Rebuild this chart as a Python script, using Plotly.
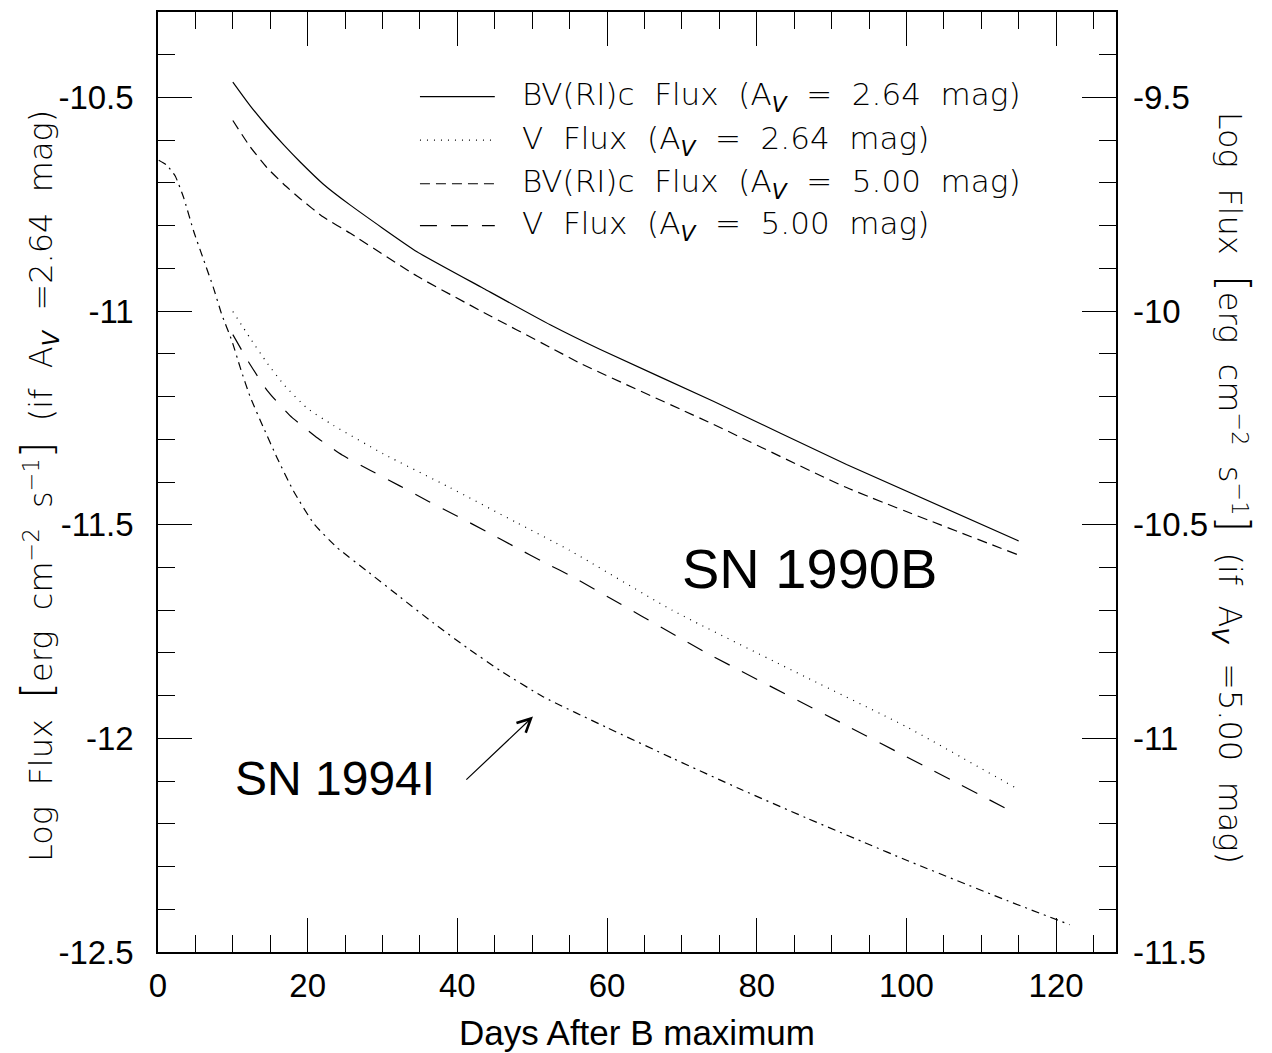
import plotly.graph_objects as go

# ---------------- data ----------------
bv264_days = [10, 12.3, 14.6, 16.8, 19.0, 22.1, 25.7, 34.6, 43.5, 52.4, 59.1, 74.2, 92.0, 115]
bv264_flux = [-10.464, -10.519, -10.568, -10.611, -10.651, -10.703, -10.752, -10.861, -10.947,
              -11.032, -11.090, -11.211, -11.359, -11.538]

v264_days = [10.0, 12.3, 14.6, 16.8, 19.9, 23.4, 30.1, 39.0, 47.9, 55.0, 68.8, 86.6, 100.0, 114.7]
v264_flux = [-11.001, -11.063, -11.122, -11.172, -11.227, -11.267, -11.334, -11.413, -11.495,
             -11.560, -11.701, -11.857, -11.973, -12.117]

bv500_days = [10, 12.3, 14.6, 16.8, 19.0, 22.1, 25.7, 34.6, 43.5, 52.4, 56.4, 74.2, 92.0, 115]
bv500_flux = [-10.554, -10.615, -10.665, -10.703, -10.737, -10.780, -10.818, -10.918, -11.003,
              -11.085, -11.122, -11.265, -11.413, -11.571]

v500_days = [10.0, 12.1, 14.6, 17.6, 21.0, 24.6, 28.4, 32.3, 36.1, 40.0, 43.9, 47.7, 51.6, 55.5,
             73.3, 91.1, 114.5]
v500_flux = [-11.055, -11.119, -11.186, -11.244, -11.293, -11.337, -11.373, -11.409, -11.445,
             -11.480, -11.516, -11.552, -11.588, -11.623, -11.800, -11.962, -12.175]

sn94i_days = [0.1, 1.2, 2.3, 3.4, 4.8, 6.1, 7.4, 8.5, 9.9, 11.0, 12.3, 14.1, 15.9, 18.1, 20.8,
              23.9, 27.9, 32.4, 36.8, 41.3, 45.7, 51.5, 59.9, 68.8, 77.7, 86.6, 95.1, 99.7,
              113.5, 121.8]
sn94i_flux = [-10.647, -10.659, -10.684, -10.733, -10.815, -10.880, -10.945, -11.007, -11.071,
              -11.133, -11.200, -11.273, -11.343, -11.421, -11.497, -11.553, -11.608, -11.670,
              -11.730, -11.788, -11.841, -11.903, -11.974, -12.047, -12.118, -12.186, -12.249,
              -12.283, -12.380, -12.436]

legend_labels = [
    "BV(RI)c  Flux  (A<sub><i>V</i></sub>  =  2.64  mag)",
    "V  Flux  (A<sub><i>V</i></sub>  =  2.64  mag)",
    "BV(RI)c  Flux  (A<sub><i>V</i></sub>  =  5.00  mag)",
    "V  Flux  (A<sub><i>V</i></sub>  =  5.00  mag)",
]

x_tickvals = [0, 20, 40, 60, 80, 100, 120]
x_ticktext = ["0", "20", "40", "60", "80", "100", "120"]
y_tickvals = [-12.5, -12, -11.5, -11, -10.5]
y_ticktext = ["-12.5", "-12", "-11.5", "-11", "-10.5"]
y2_tickvals = [-11.5, -11, -10.5, -10, -9.5]
y2_ticktext = ["-11.5", "-11", "-10.5", "-10", "-9.5"]

# ---------------- figure ----------------
LINE_W = 1.2
styles = [
    (bv264_days, bv264_flux, "solid"),
    (v264_days, v264_flux, "1px,6px"),
    (bv500_days, bv500_flux, "10px,6px"),
    (v500_days, v500_flux, "17px,14px"),
    (sn94i_days, sn94i_flux, "8px,5px,2px,5px"),
]
names = legend_labels + ["SN 1994I"]

fig = go.Figure()
for (xs, ys, dash), nm in zip(styles, names):
    fig.add_trace(go.Scatter(x=xs, y=ys, mode="lines", name=nm, showlegend=False,
                             line=dict(color="black", width=LINE_W, dash=dash, shape="spline",
                                       smoothing=0.5)))
# empty trace so that the right-hand axis is drawn
fig.add_trace(go.Scatter(x=[], y=[], yaxis="y2", showlegend=False, hoverinfo="skip"))

TICKFONT = dict(family="Liberation Sans, Arial, sans-serif", size=33, color="black")
HERSHEY = "DejaVu Sans, sans-serif"

fig.update_layout(
    width=1272, height=1053,
    margin=dict(l=158, r=156, t=10, b=101),
    paper_bgcolor="white", plot_bgcolor="white",
    showlegend=False,
    xaxis=dict(range=[0, 128], tickmode="array", tickvals=x_tickvals, ticktext=x_ticktext,
               ticks="inside", ticklen=34, tickwidth=1.2, tickcolor="black",
               minor=dict(dtick=5, tick0=0, ticks="inside", ticklen=17, tickwidth=1.2,
                          tickcolor="black", showgrid=False),
               showline=True, linecolor="black", linewidth=1.5, mirror="ticks",
               showgrid=False, zeroline=False, tickfont=TICKFONT, ticklabelstandoff=4),
    yaxis=dict(range=[-12.5, -10.3], tickmode="array", tickvals=y_tickvals, ticktext=y_ticktext,
               ticks="inside", ticklen=34, tickwidth=1.2, tickcolor="black",
               minor=dict(dtick=0.1, tick0=-12.5, ticks="inside", ticklen=17, tickwidth=1.2,
                          tickcolor="black", showgrid=False),
               showline=True, linecolor="black", linewidth=1.5, mirror="ticks",
               showgrid=False, zeroline=False, tickfont=TICKFONT, ticklabelstandoff=16),
    yaxis2=dict(range=[-11.5, -9.3], overlaying="y", side="right", anchor="x",
                tickmode="array", tickvals=y2_tickvals, ticktext=y2_ticktext,
                ticks="", showline=False, showgrid=False, zeroline=False,
                tickfont=TICKFONT, ticklabelstandoff=16),
)

# legend samples + text (drawn manually to match the original layout)
leg_rows = [-10.498, -10.600, -10.702, -10.800]
for (xs, ys, dash), row, lab in zip(styles[:4], leg_rows, legend_labels):
    fig.add_shape(type="line", x0=35.0, x1=45.0, y0=row, y1=row, xref="x", yref="y",
                  line=dict(color="black", width=LINE_W, dash=dash))
    fig.add_annotation(x=48.4, y=row, xref="x", yref="y", text=lab, showarrow=False,
                       xanchor="left", yanchor="middle",
                       font=dict(family=HERSHEY, size=31, color="black", weight=200))

# labels
fig.add_annotation(x=87.0, y=-11.602, xref="x", yref="y", text="SN 1990B", showarrow=False,
                   font=dict(family="Liberation Sans, Arial", size=56, color="black"))
fig.add_annotation(x=23.7, y=-12.095, xref="x", yref="y", text="SN 1994I", showarrow=False,
                   font=dict(family="Liberation Sans, Arial", size=48, color="black"))
fig.add_annotation(x=50.1, y=-11.949, ax=41.0, ay=-12.100, xref="x", yref="y",
                   axref="x", ayref="y", text="", showarrow=True, arrowhead=5,
                   arrowsize=2.2, arrowwidth=1.2, arrowcolor="black")

# axis titles
BR_L = '<span style="font-size:43px">[</span>'
BR_R = '<span style="font-size:43px">]</span>'
fig.add_annotation(x=0.5, y=-0.086, xref="paper", yref="paper",
                   text="Days After B maximum", showarrow=False, yanchor="middle",
                   font=dict(family="Liberation Sans, Arial", size=35, color="black"))
fig.add_annotation(x=-0.125, y=0.496, xref="paper", yref="paper", textangle=-90,
                   text=f"Log  Flux  {BR_L}erg  cm<sup>−2</sup>  s<sup>−1</sup>{BR_R}  (if  A<sub><i>V</i></sub>  =2.64  mag)",
                   showarrow=False, xanchor="center", yanchor="middle",
                   font=dict(family=HERSHEY, size=32, color="black", weight=200))
fig.add_annotation(x=1.122, y=0.494, xref="paper", yref="paper", textangle=90,
                   text=f"Log  Flux  {BR_L}erg  cm<sup>−2</sup>  s<sup>−1</sup>{BR_R}  (if  A<sub><i>V</i></sub>  =5.00  mag)",
                   showarrow=False, xanchor="center", yanchor="middle",
                   font=dict(family=HERSHEY, size=32, color="black", weight=200))

fig.write_html("out.html", config={"displayModeBar": False},
               post_script="document.body.style.margin='0';document.body.style.overflow='hidden';")
